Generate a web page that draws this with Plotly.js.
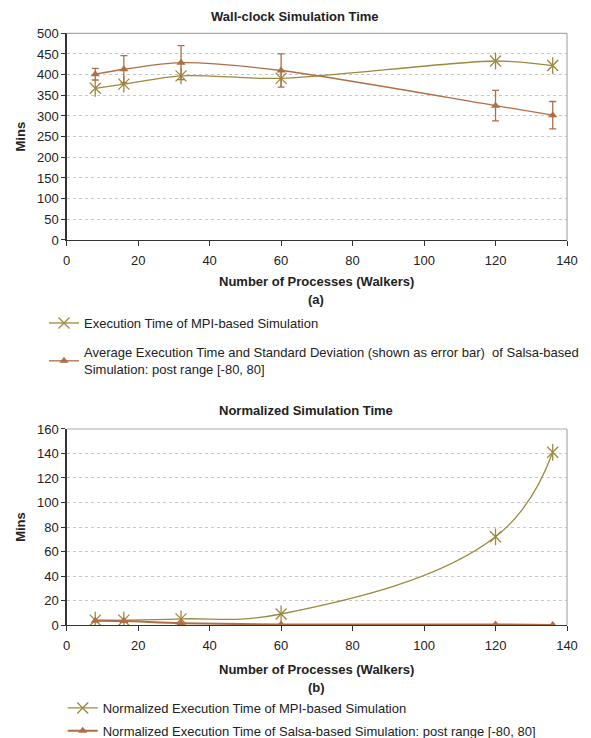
<!DOCTYPE html>
<html>
<head>
<meta charset="utf-8">
<script src="https://cdn.plot.ly/plotly-3.0.1.min.js"></script>
<style>html,body{margin:0;padding:0;background:#fff;}#chart{width:591px;height:738px;}</style>
</head>
<body>
<div id="chart"></div>
<script>
// ---- data ----
var processes = [8, 16, 32, 60, 120, 136];
var mpiTime = [367, 377, 397, 391, 433, 422];
var salsaTime = [401, 413, 429, 410, 325, 302];
var salsaStd = [14, 33, 41, 40, 37, 33];
var mpiNorm = [4, 4, 5, 9, 72, 141];
var salsaNorm = [3.5, 3.3, 1.5, 0.5, 0.4, 0.1];
var xTicks = [0, 20, 40, 60, 80, 100, 120, 140];
var yTicksA = [0, 50, 100, 150, 200, 250, 300, 350, 400, 450, 500];
var yTicksB = [0, 20, 40, 60, 80, 100, 120, 140, 160];

var MPI = '#9b8a3e', SALSA = '#b06e45';
var FONT = 'Liberation Sans, Arial, sans-serif';
var FS = 13;

var traces = [
  {x: processes, y: mpiTime, type: 'scatter', mode: 'lines+markers', name: 'Execution Time of MPI-based Simulation',
   xaxis: 'x', yaxis: 'y', legend: 'legend', legendgroup: 'a1',
   line: {color: MPI, width: 1.3, shape: 'spline', smoothing: 0.8},
   marker: {symbol: 'x-thin-open', size: 11, color: MPI, line: {color: MPI, width: 1.3}}},
  {x: processes, y: mpiTime, type: 'scatter', mode: 'markers', showlegend: false, hoverinfo: 'skip',
   xaxis: 'x', yaxis: 'y',
   marker: {symbol: 'line-ns-open', size: 12, color: MPI, line: {color: MPI, width: 1.3}}},
  {x: processes, y: salsaTime, type: 'scatter', mode: 'lines+markers',
   name: 'Average Execution Time and Standard Deviation (shown as error bar)  of Salsa-based<br>Simulation: post range [-80, 80]',
   xaxis: 'x', yaxis: 'y', legend: 'legend', legendgroup: 'a2',
   error_y: {type: 'data', array: salsaStd, visible: true, color: SALSA, thickness: 1.3, width: 3.5},
   line: {color: SALSA, width: 1.3, shape: 'spline', smoothing: 0.8},
   marker: {symbol: 'triangle-up', size: 8, color: SALSA}},
  {x: processes, y: mpiNorm, type: 'scatter', mode: 'lines+markers', name: 'Normalized Execution Time of MPI-based Simulation',
   xaxis: 'x2', yaxis: 'y2', legend: 'legend2', legendgroup: 'b1',
   line: {color: MPI, width: 1.3, shape: 'spline', smoothing: 1.2},
   marker: {symbol: 'x-thin-open', size: 11, color: MPI, line: {color: MPI, width: 1.3}}},
  {x: processes, y: mpiNorm, type: 'scatter', mode: 'markers', showlegend: false, hoverinfo: 'skip',
   xaxis: 'x2', yaxis: 'y2',
   marker: {symbol: 'line-ns-open', size: 12, color: MPI, line: {color: MPI, width: 1.3}}},
  {x: processes, y: salsaNorm, type: 'scatter', mode: 'lines+markers', name: 'Normalized Execution Time of Salsa-based Simulation: post range [-80, 80]',
   xaxis: 'x2', yaxis: 'y2', legend: 'legend2', legendgroup: 'b2',
   line: {color: SALSA, width: 2, shape: 'spline', smoothing: 0.8},
   marker: {symbol: 'triangle-up', size: 8, color: SALSA}}
];

function xAxis(anchor) {
  return {domain: [0.1128, 0.9594], anchor: anchor, range: [0, 140], tickvals: xTicks, ticks: 'outside', ticklen: 5,
    tickcolor: '#333', showline: true, linecolor: '#333', linewidth: 1.3, mirror: false, showgrid: false, zeroline: false,
    ticklabelstandoff: 3,
    tickfont: {family: FONT, size: FS, color: '#222'}, fixedrange: true};
}
function yAxis(domain, anchor, range, ticks) {
  return {domain: domain, anchor: anchor, range: range, tickvals: ticks, ticks: 'outside', ticklen: 4, tickcolor: '#333',
    showline: true, linecolor: '#333', linewidth: 1.3, showgrid: true, gridcolor: '#c8c8c8', griddash: 'dot', gridwidth: 1,
    zeroline: false, tickfont: {family: FONT, size: FS, color: '#222'},
    title: {text: '<b>Mins</b>', font: {family: FONT, size: FS, color: '#222'}, standoff: 8}, fixedrange: true};
}
function note(text, px, py) {
  return {text: text, xref: 'paper', yref: 'paper', x: px / 591, y: 1 - py / 738, xanchor: 'center', yanchor: 'middle',
    showarrow: false, font: {family: FONT, size: FS, color: '#222'}};
}

var layout = {
  width: 591, height: 738, margin: {l: 0, r: 0, t: 0, b: 0, autoexpand: false},
  paper_bgcolor: '#fff', plot_bgcolor: '#fff',
  font: {family: FONT, size: FS, color: '#222'},
  xaxis: xAxis('y'),
  yaxis: yAxis([0.6748, 0.9549], 'x', [0, 500], yTicksA),
  xaxis2: xAxis('y2'),
  yaxis2: yAxis([0.1531, 0.4187], 'x2', [0, 160], yTicksB),
  shapes: [
    {type: 'line', xref: 'x domain', yref: 'y domain', x0: 0, x1: 1, y0: 1, y1: 1, line: {color: '#aaa', width: 1.2}},
    {type: 'line', xref: 'x domain', yref: 'y domain', x0: 1, x1: 1, y0: 0, y1: 1, line: {color: '#aaa', width: 1.2}},
    {type: 'line', xref: 'x2 domain', yref: 'y2 domain', x0: 0, x1: 1, y0: 1, y1: 1, line: {color: '#aaa', width: 1.2}},
    {type: 'line', xref: 'x2 domain', yref: 'y2 domain', x0: 1, x1: 1, y0: 0, y1: 1, line: {color: '#aaa', width: 1.2}}
  ],
  annotations: [
    note('<b>Wall-clock Simulation Time</b>', 294.5, 17),
    note('<b>Number of Processes (Walkers)</b>', 316, 281),
    note('<b>(a)</b>', 316, 299),
    note('<b>Normalized Simulation Time</b>', 305.7, 410),
    note('<b>Number of Processes (Walkers)</b>', 316, 669),
    note('<b>(b)</b>', 316, 687)
  ],
  legend: {x: 44 / 591, y: 1 - 308 / 738, xanchor: 'left', yanchor: 'top', bgcolor: 'rgba(0,0,0,0)',
    font: {family: FONT, size: FS, color: '#222'}, traceorder: 'grouped', tracegroupgap: 9.5, itemwidth: 30},
  legend2: {x: 62.7 / 591, y: 1 - 693 / 738, xanchor: 'left', yanchor: 'top', bgcolor: 'rgba(0,0,0,0)',
    font: {family: FONT, size: FS, color: '#222'}, traceorder: 'grouped', tracegroupgap: 3, itemwidth: 30},
  showlegend: true
};

Plotly.newPlot('chart', traces, layout, {displayModeBar: false, staticPlot: true});
</script>
</body>
</html>
